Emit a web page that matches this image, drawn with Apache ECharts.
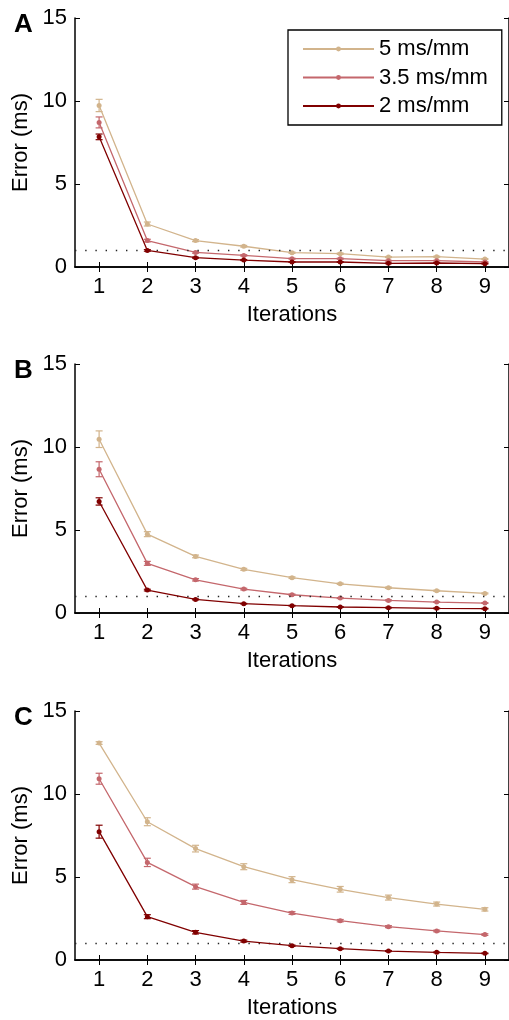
<!DOCTYPE html>
<html>
<head>
<meta charset="utf-8">
<script src="https://cdn.jsdelivr.net/npm/echarts@6/dist/echarts.min.js"></script>
<style>
html,body{margin:0;padding:0;background:#fff;}
#chart{width:509px;height:1020px;}
</style>
</head>
<body>
<div id="chart"></div>
<script>
// ---------- data ----------
const iterations = ['1','2','3','4','5','6','7','8','9'];
const seriesNames = ['5 ms/mm','3.5 ms/mm','2 ms/mm'];
const yTicks = [0,5,10,15];
const threshold = 1;

// Panel A
const a5   = [9.73, 2.59, 1.59, 1.25, 0.86, 0.80, 0.60, 0.62, 0.48];
const a5e  = [0.37, 0.12, 0.06, 0.05, 0.04, 0.04, 0.03, 0.03, 0.03];
const a35  = [8.71, 1.59, 0.88, 0.70, 0.50, 0.50, 0.38, 0.38, 0.30];
const a35e = [0.33, 0.08, 0.05, 0.04, 0.03, 0.03, 0.02, 0.02, 0.02];
const a2   = [7.84, 1.00, 0.56, 0.42, 0.30, 0.30, 0.22, 0.24, 0.20];
const a2e  = [0.17, 0.05, 0.03, 0.03, 0.02, 0.02, 0.02, 0.02, 0.02];

// Panel B
const b5   = [10.47, 4.75, 3.41, 2.63, 2.13, 1.76, 1.52, 1.34, 1.18];
const b5e  = [0.50, 0.15, 0.08, 0.06, 0.05, 0.04, 0.04, 0.03, 0.03];
const b35  = [8.66, 2.99, 2.00, 1.44, 1.10, 0.90, 0.76, 0.66, 0.60];
const b35e = [0.45, 0.12, 0.07, 0.05, 0.04, 0.03, 0.03, 0.02, 0.02];
const b2   = [6.72, 1.38, 0.82, 0.56, 0.44, 0.36, 0.32, 0.28, 0.26];
const b2e  = [0.22, 0.05, 0.03, 0.02, 0.02, 0.02, 0.02, 0.02, 0.02];

// Panel C
const c5   = [13.07, 8.33, 6.71, 5.62, 4.84, 4.26, 3.76, 3.37, 3.05];
const c5e  = [0.08, 0.24, 0.20, 0.18, 0.18, 0.17, 0.15, 0.12, 0.10];
const c35  = [10.92, 5.88, 4.42, 3.47, 2.83, 2.37, 2.01, 1.75, 1.53];
const c35e = [0.33, 0.25, 0.15, 0.12, 0.08, 0.07, 0.06, 0.05, 0.05];
const c2   = [7.73, 2.61, 1.67, 1.14, 0.86, 0.68, 0.54, 0.46, 0.40];
const c2e  = [0.39, 0.12, 0.10, 0.06, 0.04, 0.03, 0.03, 0.02, 0.02];

// ---------- styling ----------
const colors = ['#d2b48c', '#c4676c', '#800000'];
const FONT = "'Liberation Sans', Arial, sans-serif";
const panels = [
  {letter:'A', top:18,  data:[[a5,a5e],[a35,a35e],[a2,a2e]]},
  {letter:'B', top:364, data:[[b5,b5e],[b35,b35e],[b2,b2e]]},
  {letter:'C', top:711, data:[[c5,c5e],[c35,c35e],[c2,c2e]]}
];
const letterTops = [7, 353, 700];

const grid = [], xAxis = [], yAxis = [], series = [], title = [];
panels.forEach((p, g) => {
  grid.push({left:75, top:p.top, width:437, height:249});
  title.push({text:p.letter, left:9, top:letterTops[g],
    textStyle:{fontSize:26, fontWeight:'bold', color:'#000', fontFamily:FONT}});
  const axLine = {show:true, lineStyle:{color:'#000', width:1.5}};
  xAxis.push({type:'category', gridIndex:g, data:iterations, boundaryGap:true, position:'bottom',
    axisLine:axLine, axisTick:{show:true, inside:true, alignWithLabel:true, length:5, lineStyle:{color:'#000'}},
    axisLabel:{fontSize:22, color:'#000', fontFamily:FONT, margin:9},
    splitLine:{show:false},
    name:'Iterations', nameLocation:'middle', nameGap:37,
    nameTextStyle:{fontSize:22, color:'#000', fontFamily:FONT}});
  xAxis.push({type:'category', gridIndex:g, data:iterations, boundaryGap:true, position:'top',
    axisLine:axLine, axisTick:{show:true, inside:true, alignWithLabel:true, length:5, lineStyle:{color:'#000'}},
    axisLabel:{show:false}, splitLine:{show:false}});
  yAxis.push({type:'value', gridIndex:g, min:0, max:15, interval:5, position:'left',
    axisLine:axLine, axisTick:{show:true, inside:true, length:5, lineStyle:{color:'#000'}},
    axisLabel:{fontSize:22, color:'#000', fontFamily:FONT, margin:8,
      formatter:v => yTicks.indexOf(v) >= 0 ? String(v) : ''},
    splitLine:{show:false},
    name:'Error (ms)', nameLocation:'middle', nameGap:43, nameRotate:90,
    nameTextStyle:{fontSize:22, color:'#000', fontFamily:FONT}});
  yAxis.push({type:'value', gridIndex:g, min:0, max:15, interval:5, position:'right',
    axisLine:axLine, axisTick:{show:true, inside:true, length:5, lineStyle:{color:'#000'}},
    axisLabel:{show:false}, splitLine:{show:false}});

  p.data.forEach((pair, k) => {
    const vals = pair[0], errs = pair[1];
    const s = {
      type:'line', name:seriesNames[k], xAxisIndex:2*g, yAxisIndex:2*g,
      data:vals, symbol:'circle', symbolSize:5, showSymbol:true,
      lineStyle:{color:colors[k], width:1.3}, itemStyle:{color:colors[k]},
      z:3+k, animation:false
    };
    if (k === 0) {
      s.markLine = {silent:true, symbol:'none', label:{show:false}, animation:false,
        lineStyle:{color:'#222', type:[1.4, 8.8], width:1.4}, data:[{yAxis:threshold}]};
    }
    series.push(s);
    series.push({
      type:'custom', name:seriesNames[k], xAxisIndex:2*g, yAxisIndex:2*g, z:3+k,
      data:vals.map((v, i) => [i, v - errs[i], v + errs[i]]),
      encode:{x:0, y:[1,2]},
      renderItem:(params, api) => {
        const i = api.value(0);
        const lo = api.coord([i, api.value(1)]);
        const hi = api.coord([i, api.value(2)]);
        const w = 3.5;
        const st = {stroke:colors[k], lineWidth:1.2};
        return {type:'group', children:[
          {type:'line', shape:{x1:lo[0], y1:lo[1], x2:hi[0], y2:hi[1]}, style:st},
          {type:'line', shape:{x1:lo[0]-w, y1:lo[1], x2:lo[0]+w, y2:lo[1]}, style:st},
          {type:'line', shape:{x1:hi[0]-w, y1:hi[1], x2:hi[0]+w, y2:hi[1]}, style:st}
        ]};
      },
      animation:false
    });
  });
});

const chart = echarts.init(document.getElementById('chart'), null, {renderer:'canvas'});
chart.setOption({
  animation:false,
  backgroundColor:'#fff',
  textStyle:{fontFamily:FONT},
  title:title,
  legend:{
    data:seriesNames, left:288, top:30, orient:'vertical',
    padding:[8, 14, 8, 14], itemWidth:71, itemHeight:6, itemGap:6.5,
    borderColor:'#000', borderWidth:1.3, backgroundColor:'#fff',
    textStyle:{fontSize:22, color:'#000', fontFamily:FONT},
    selectedMode:false
  },
  grid:grid, xAxis:xAxis, yAxis:yAxis, series:series
});
</script>
</body>
</html>
